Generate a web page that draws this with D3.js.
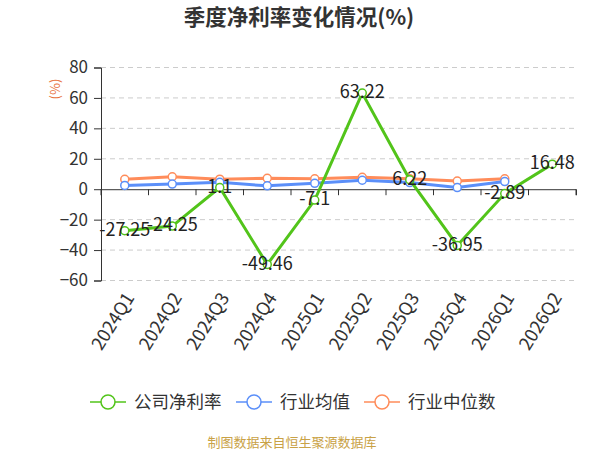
<!DOCTYPE html>
<html lang="zh">
<head>
  <meta charset="utf-8">
  <title>季度净利率变化情况(%)</title>
  <script src="https://cdn.jsdelivr.net/npm/d3@7/dist/d3.min.js"></script>
  <style>
    body { margin: 0; background: #fff; }
    text { font-family: "Noto Sans CJK SC", "Noto Sans", sans-serif; }
  </style>
</head>
<body>
  <svg id="chart" width="600" height="450"></svg>
  <script>
    const quarters = ["2024Q1","2024Q2","2024Q3","2024Q4","2025Q1","2025Q2","2025Q3","2025Q4","2026Q1","2026Q2"];
    const companyRate = [-27.25, -24.25, 1.1, -49.46, -7.1, 63.22, 6.22, -36.95, -2.89, 16.48];
    const industryAvg = [2.5, 3.4, 4.5, 2.2, 3.9, 5.9, 4.4, 1.1, 5.0, null];
    const industryMedian = [6.5, 8.2, 6.6, 7.2, 6.8, 7.8, 6.9, 5.4, 6.8, null];
    const yTicks = [-60, -40, -20, 0, 20, 40, 60, 80];
    const seriesNames = ["公司净利率", "行业均值", "行业中位数"];
    const colors = ["#52c41a", "#5b8ff9", "#ff8c5a"];

    const svg = d3.select("#chart");
    const plotLeft = 101, plotRight = 576, plotTop = 67.5, plotBottom = 280.5;

    const x = d3.scaleBand().domain(quarters).range([plotLeft, plotRight]);
    const y = d3.scaleLinear().domain([-60, 80]).range([plotBottom, plotTop]);
    const cx = d => x(d) + x.bandwidth() / 2;

    // title
    svg.append("text")
      .attr("x", 299).attr("y", 17)
      .attr("dy", "0.35em")
      .attr("text-anchor", "middle")
      .attr("font-size", 21.5).attr("font-weight", "bold")
      .attr("fill", "#333")
      .text("季度净利率变化情况(%)");

    // grid
    svg.append("g")
      .selectAll("line")
      .data(yTicks.filter(t => t !== 0))
      .enter().append("line")
        .attr("x1", plotLeft).attr("x2", plotRight)
        .attr("y1", d => y(d)).attr("y2", d => y(d))
        .attr("stroke", "#ccc")
        .attr("stroke-dasharray", "5,4");

    // y axis
    const yAxis = svg.append("g")
      .attr("transform", `translate(${plotLeft},0)`)
      .call(d3.axisLeft(y).tickValues(yTicks).tickSize(7).tickPadding(6));
    yAxis.select(".domain").attr("stroke", "#333");
    yAxis.selectAll(".tick line").attr("stroke", "#333");
    yAxis.selectAll("text").attr("font-size", 17).attr("fill", "#333")
      .style("font-family", "'Noto Sans CJK SC', sans-serif");

    svg.append("text")
      .attr("transform", "translate(55,89) rotate(-90)")
      .attr("text-anchor", "middle")
      .attr("dy", "0.35em")
      .attr("font-size", 13).attr("fill", "#e8703a")
      .text("(%)");

    // x axis at zero
    const xAxis = svg.append("g")
      .attr("transform", `translate(0,${y(0)})`)
      .call(d3.axisBottom(x).tickSizeInner(6).tickSizeOuter(6).tickFormat(""));
    xAxis.select(".domain").attr("stroke", "#333");
    xAxis.selectAll(".tick line")
      .attr("transform", `translate(${-x.bandwidth() / 2},0)`)
      .attr("stroke", "#333");
    xAxis.append("line")
      .attr("x1", plotRight).attr("x2", plotRight).attr("y1", 0).attr("y2", 6)
      .attr("stroke", "#333");

    // x labels (bottom)
    svg.append("g")
      .selectAll("text")
      .data(quarters)
      .enter().append("text")
        .attr("transform", d => `translate(${cx(d) + 5},${plotBottom + 14}) rotate(-58)`)
        .attr("text-anchor", "end")
        .attr("dy", "0.35em")
        .attr("font-size", 18).attr("fill", "#333")
        .text(d => d);

    // series
    const allSeries = [companyRate, industryAvg, industryMedian];
    const line = d3.line()
      .defined(d => d.v !== null)
      .x(d => cx(d.q)).y(d => y(d.v));

    [2, 1, 0].forEach(i => {
      const pts = quarters.map((q, j) => ({ q: q, v: allSeries[i][j] }));
      svg.append("path")
        .datum(pts)
        .attr("d", line)
        .attr("fill", "none")
        .attr("stroke", colors[i])
        .attr("stroke-width", 3);
      svg.append("g")
        .selectAll("circle")
        .data(pts.filter(d => d.v !== null))
        .enter().append("circle")
          .attr("cx", d => cx(d.q)).attr("cy", d => y(d.v))
          .attr("r", 4)
          .attr("fill", "#fff")
          .attr("stroke", colors[i])
          .attr("stroke-width", 1.5);
    });

    // labels for company
    svg.append("g")
      .selectAll("text")
      .data(quarters.map((q, j) => ({ q: q, v: companyRate[j] })))
      .enter().append("text")
        .attr("x", d => cx(d.q)).attr("y", d => y(d.v) - 1)
        .attr("dy", "0.35em")
        .attr("text-anchor", "middle")
        .attr("font-size", 18).attr("fill", "#222")
        .text(d => d.v);

    // legend
    const legendX = [90, 236, 364];
    const legend = svg.append("g");
    seriesNames.forEach((name, i) => {
      const g = legend.append("g").attr("transform", `translate(${legendX[i]},402)`);
      g.append("line").attr("x1", 0).attr("x2", 36).attr("y1", 0).attr("y2", 0)
        .attr("stroke", colors[i]).attr("stroke-width", 1.5);
      g.append("circle").attr("cx", 18).attr("cy", 0).attr("r", 7)
        .attr("fill", "#fff").attr("stroke", colors[i]).attr("stroke-width", 1.5);
      g.append("text").attr("x", 44).attr("y", 0).attr("dy", "0.35em")
        .attr("font-size", 17.5).attr("fill", "#333").text(name);
    });

    // source
    svg.append("text")
      .attr("x", 292).attr("y", 442).attr("dy", "0.35em")
      .attr("text-anchor", "middle")
      .attr("font-size", 13).attr("fill", "#c9a246")
      .text("制图数据来自恒生聚源数据库");
  </script>
</body>
</html>
